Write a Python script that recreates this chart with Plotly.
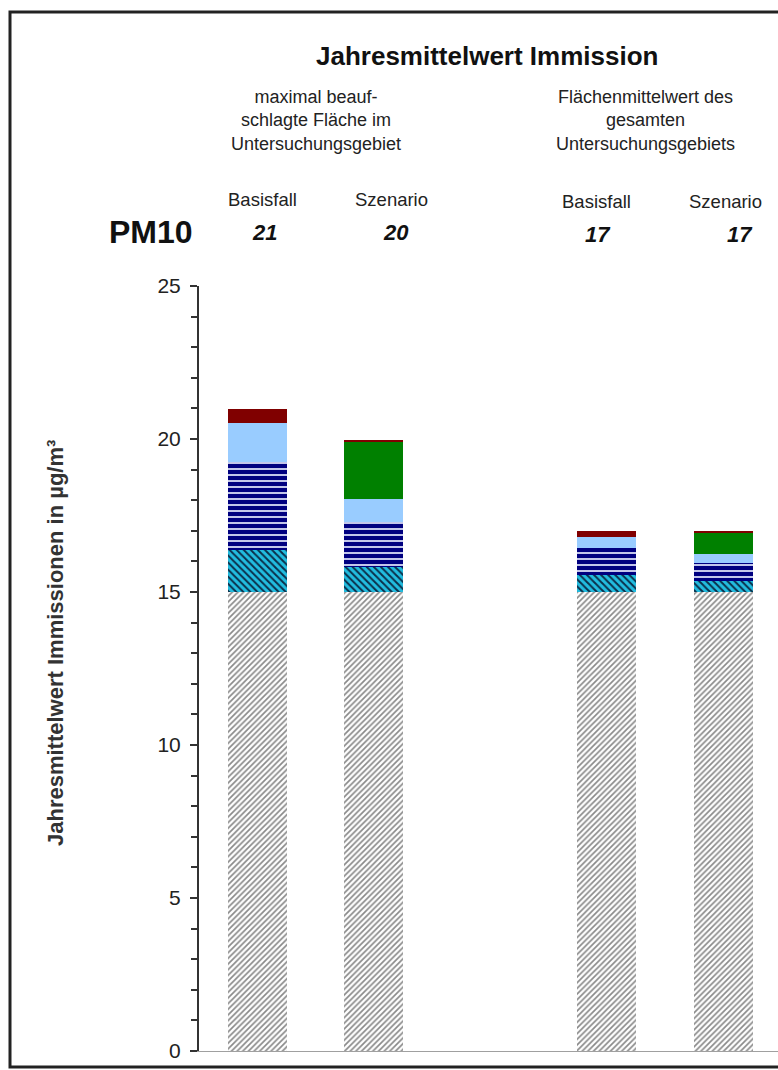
import plotly.graph_objects as go

# ---------------- data ----------------
categories = ["Basisfall (max)", "Szenario (max)", "gap", "Basisfall (Mittel)", "Szenario (Mittel)"]
bar_categories = ["Basisfall (max)", "Szenario (max)", "Basisfall (Mittel)", "Szenario (Mittel)"]

hintergrund = [15.0, 15.0, 15.0, 15.0]
industrie = [1.37, 0.83, 0.56, 0.36]
verkehr = [2.87, 1.47, 0.87, 0.58]
hausbrand = [1.27, 0.74, 0.38, 0.29]
szenario_zusatz = [0.0, 1.85, 0.0, 0.73]
sonstige = [0.48, 0.09, 0.18, 0.04]

totals_labels = ["21", "20", "17", "17"]
group_labels = ["maximal beauf-<br>schlagte Fläche im<br>Untersuchungsgebiet",
                "Flächenmittelwert des<br>gesamten<br>Untersuchungsgebiets"]
case_labels = ["Basisfall", "Szenario", "Basisfall", "Szenario"]
y_ticks = [0, 5, 10, 15, 20, 25]

FONT = "Liberation Sans, Arial, sans-serif"

W, H = 778, 1070
ML, MR, MT, MB = 199, 0, 286, 19
PW = W - ML - MR
PH = H - MT - MB


def px(x):
    return (x - ML) / PW


def py(y):
    return (H - MB - y) / PH


fig = go.Figure()

series = [
    ("Hintergrund", hintergrund, dict(shape="/", fgcolor="#8a8a8a", bgcolor="#ffffff", size=4, solidity=0.42, fgopacity=1)),
    ("Industrie", industrie, dict(shape="\\", fgcolor="#0b2f4a", bgcolor="#22bde0", size=5, solidity=0.4, fgopacity=1)),
    ("Verkehr", verkehr, dict(shape="-", fgcolor="#e8ecff", bgcolor="#000080", size=6, solidity=0.28, fgopacity=1)),
    ("Hausbrand", hausbrand, None),
    ("Zusatzbelastung Szenario", szenario_zusatz, None),
    ("Sonstige", sonstige, None),
]
solid_colors = {"Hausbrand": "#99ccff", "Zusatzbelastung Szenario": "#008000", "Sonstige": "#800000"}

for name, vals, pat in series:
    marker = dict(line=dict(width=0))
    if pat is not None:
        marker["color"] = pat["bgcolor"]
        marker["pattern"] = pat
    else:
        marker["color"] = solid_colors[name]
    fig.add_trace(go.Bar(x=bar_categories, y=vals, name=name, marker=marker, width=0.51,
                         hoverinfo="name+y"))

fig.update_layout(
    width=W, height=H,
    margin=dict(l=ML, r=MR, t=MT, b=MB, pad=0),
    barmode="stack",
    showlegend=False,
    plot_bgcolor="white",
    paper_bgcolor="white",
    font=dict(family=FONT, color="#222222"),
    xaxis=dict(type="category", categoryorder="array", categoryarray=categories,
               range=[-0.5, -0.5 + PW / 116.5], showticklabels=False, ticks="",
               showgrid=False, zeroline=False, showline=True, linecolor="#a0a0a0", linewidth=1),
    yaxis=dict(range=[0, 25], tickvals=y_ticks, ticks="outside", ticklen=7, tickwidth=1.5,
               tickcolor="#333333", showline=True, linecolor="#333333", linewidth=2,
               showgrid=False, zeroline=False, tickfont=dict(size=21, family=FONT, color="#222222"),
               ticklabelstandoff=5,
               minor=dict(dtick=1, ticks="outside", ticklen=6, tickwidth=1.5, tickcolor="#333333",
                          showgrid=False)),
)

# outer frame
fig.add_shape(type="rect", xref="paper", yref="paper",
              x0=px(10), x1=px(800), y0=py(1067), y1=py(12),
              line=dict(color="#222222", width=3), fillcolor="rgba(0,0,0,0)", layer="above")

ann = []
ann.append(dict(text="<b>Jahresmittelwert Immission</b>", x=px(487), y=py(56),
                font=dict(size=26, family=FONT, color="#111111")))
ann.append(dict(text=group_labels[0], x=px(316), y=py(120),
                font=dict(size=18, family=FONT, color="#222222")))
ann.append(dict(text=group_labels[1], x=px(645), y=py(120),
                font=dict(size=18, family=FONT, color="#222222")))
case_x = [262, 391, 596, 725]
case_y = [200, 200, 202, 202]
num_x = [264, 396, 598, 740]
num_y = [232, 232, 234, 234]
for i in range(4):
    ann.append(dict(text=case_labels[i], x=px(case_x[i]), y=py(case_y[i]),
                    font=dict(size=18.5, family=FONT, color="#222222")))
    ann.append(dict(text="<b><i>" + totals_labels[i] + "</i></b>", x=px(num_x[i]), y=py(num_y[i]),
                    font=dict(size=22, family=FONT, color="#111111")))
ann.append(dict(text="<b>PM10</b>", x=px(151), y=py(232),
                font=dict(size=32, family=FONT, color="#111111")))
ann.append(dict(text="<b>Jahresmittelwert Immissionen in µg/m³</b>", x=px(55), y=py(643),
                textangle=-90, font=dict(size=22, family=FONT, color="#333333")))

for a in ann:
    a.update(xref="paper", yref="paper", showarrow=False, xanchor="center", yanchor="middle")
    fig.add_annotation(**a)

fig.write_html("out.html", config={"displayModeBar": False},
               post_script="document.body.style.margin='0px';")
